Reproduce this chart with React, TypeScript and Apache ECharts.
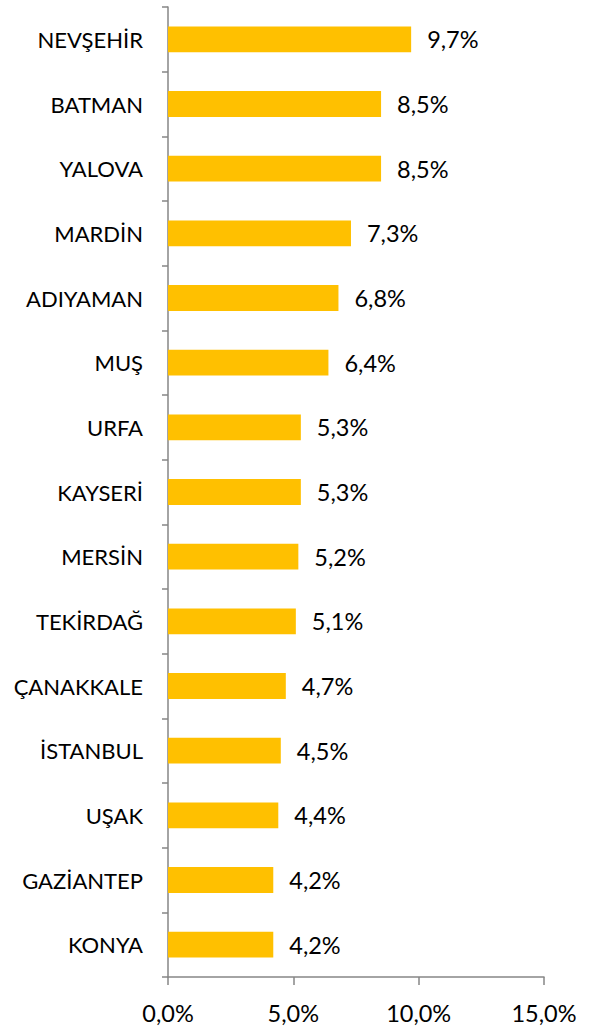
import React, { useEffect, useRef } from "react";
import * as echarts from "echarts";

const categories = [
  "NEVŞEHİR", "BATMAN", "YALOVA", "MARDİN", "ADIYAMAN", "MUŞ", "URFA", "KAYSERİ",
  "MERSİN", "TEKİRDAĞ", "ÇANAKKALE", "İSTANBUL", "UŞAK", "GAZİANTEP", "KONYA",
];
const values = [9.7, 8.5, 8.5, 7.3, 6.8, 6.4, 5.3, 5.3, 5.2, 5.1, 4.7, 4.5, 4.4, 4.2, 4.2];
const xTicks = [0, 5, 10, 15];

const fmt = (v: number) => v.toFixed(1).replace(".", ",") + "%";

export default function App() {
  const ref = useRef<HTMLDivElement>(null);
  useEffect(() => {
    if (!ref.current) return;
    const chart = echarts.init(ref.current, undefined, { renderer: "svg" });
    const font = "Lato, 'Open Sans', sans-serif";
    chart.setOption({
      animation: false,
      grid: { left: 168, right: 45, top: 7, bottom: 49, containLabel: false },
      xAxis: {
        type: "value",
        min: xTicks[0],
        max: xTicks[xTicks.length - 1],
        interval: 5,
        axisLine: { show: true, lineStyle: { color: "#868686", width: 1.5 } },
        axisTick: { show: true, length: 8, lineStyle: { color: "#868686", width: 1.5 } },
        splitLine: { show: false },
        axisLabel: {
          color: "#000",
          fontSize: 23.5,
          fontFamily: font,
          margin: 24,
          formatter: (v: number) => fmt(v),
        },
      },
      yAxis: {
        type: "category",
        data: categories,
        inverse: true,
        axisLine: { show: true, lineStyle: { color: "#868686", width: 1.5 } },
        axisTick: { show: true, length: 6, lineStyle: { color: "#868686", width: 1.5 } },
        axisLabel: { color: "#000", fontSize: 22, fontFamily: font, margin: 25 },
      },
      series: [
        {
          type: "bar",
          data: values,
          barCategoryGap: "60%",
          itemStyle: { color: "#FFC000" },
          label: {
            show: true,
            position: "right",
            distance: 16,
            color: "#000",
            fontSize: 23.5,
            fontFamily: font,
            formatter: (p: any) => fmt(p.value),
          },
        },
      ],
    });
    return () => chart.dispose();
  }, []);
  return <div ref={ref} style={{ width: 589, height: 1026, position: "absolute", left: 0, top: 0 }} />;
}
